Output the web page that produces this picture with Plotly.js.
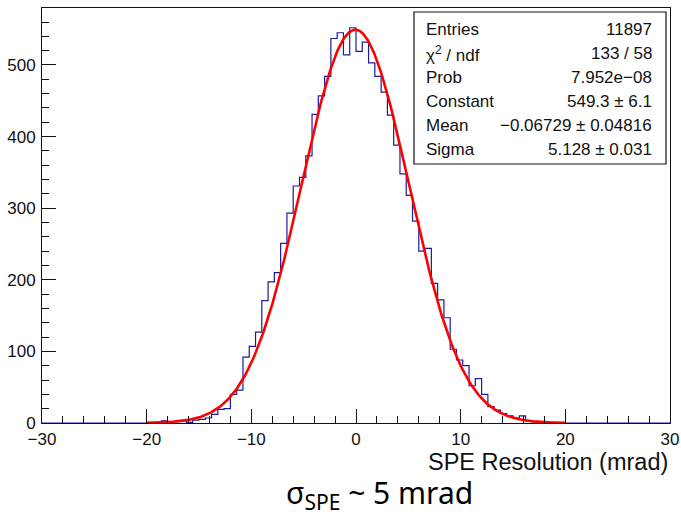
<!DOCTYPE html>
<html><head><meta charset="utf-8">
<script src="https://cdn.plot.ly/plotly-3.0.1.min.js"></script>
<style>html,body{margin:0;padding:0;background:#fff}#chart{width:681px;height:518px}</style>
</head><body><div id="chart"></div>
<script>
// ---- data ----
const xMin = -30, xMax = 30, binWidth = 0.6;
const firstFilledEdge = -19.8;
const counts = [0, 1, 3, 2, 2, 3, 1, 4, 5, 7, 12, 19, 20, 40, 46, 92, 107, 127, 171, 197, 210, 251,
  293, 331, 343, 373, 431, 457, 484, 537, 545, 514, 552,
  519, 532, 503, 484, 462, 430, 388, 348, 318, 282,
  240, 244, 195, 172, 147, 103, 88, 80, 52, 62, 40, 23, 18, 13, 10, 7, 10, 3, 2, 1, 1];
const statLabels = ['Entries', 'χ<sup>2</sup> / ndf', 'Prob', 'Constant', 'Mean', 'Sigma'];
const statValues = ['11897', '133 / 58', '7.952e−08', '549.3 ± 6.1', '−0.06729 ± 0.04816', '5.128 ± 0.031'];
const fitConstant = 549.3, fitMean = -0.06729, fitSigma = 5.128;
const fitRange = [-20, 20];
const xTitle = 'SPE Resolution (mrad)';
const caption = 'σ<sub>SPE</sub> ~ 5 mrad';

// ---- build histogram outline ----
const nBins = Math.round((xMax - xMin) / binWidth);
const offset = Math.round((firstFilledEdge - xMin) / binWidth);
const full = new Array(nBins).fill(0);
counts.forEach((c, i) => { full[offset + i] = c; });
const hx = [], hy = [];
for (let i = 0; i <= nBins; i++) {
  hx.push(xMin + i * binWidth);
  hy.push(i < nBins ? full[i] : full[nBins - 1]);
}

// ---- fit function (Gaussian with the fitted parameters) ----
const fx = [], fy = [];
for (let x = fitRange[0]; x <= fitRange[1] + 1e-9; x += 0.1) {
  fx.push(x);
  fy.push(fitConstant * Math.exp(-0.5 * Math.pow((x - fitMean) / fitSigma, 2)));
}

const font = 'Liberation Sans, Arial, Helvetica, sans-serif';
const ml = 42, mr = 11, mt = 8, mb = 95, W = 681, H = 518;
const pw = W - ml - mr, ph = H - mt - mb;
const px = p => (p - ml) / pw;
const py = p => (H - mb - p) / ph;

const annotations = [];
const rowTop = 30, rowStep = 23.8;
statLabels.forEach((t, i) => {
  annotations.push({xref: 'paper', yref: 'paper', x: px(424), y: py(rowTop + i * rowStep), xanchor: 'left', yanchor: 'middle',
    text: t, showarrow: false, font: {family: font, size: 17, color: '#111'}});
  annotations.push({xref: 'paper', yref: 'paper', x: px(654), y: py(rowTop + i * rowStep), xanchor: 'right', yanchor: 'middle',
    text: statValues[i], showarrow: false, font: {family: font, size: 17, color: '#111'}});
});
annotations.push({xref: 'paper', yref: 'paper', x: px(670), y: py(462), xanchor: 'right', yanchor: 'middle',
  text: xTitle, showarrow: false, font: {family: font, size: 23.5, color: '#111'}});
annotations.push({xref: 'paper', yref: 'paper', x: px(379), y: py(494), xanchor: 'center', yanchor: 'middle',
  text: caption, showarrow: false, font: {family: 'Noto Sans, sans-serif', size: 30, color: '#000'}});

const axisCommon = {
  showgrid: false, zeroline: false, showline: true, linecolor: '#111', linewidth: 1, mirror: true,
  ticks: 'inside', ticklen: 14, tickcolor: '#111', tickwidth: 1,
  tickfont: {family: font, size: 17, color: '#111'}, fixedrange: true
};

Plotly.newPlot('chart', [
  {x: hx, y: hy, type: 'scatter', mode: 'lines', line: {shape: 'hv', color: '#1a1aa0', width: 1.2}, hoverinfo: 'skip'},
  {x: fx, y: fy, type: 'scatter', mode: 'lines', line: {color: '#ff0000', width: 2.6}, hoverinfo: 'skip'}
], {
  width: W, height: H, margin: {l: ml, r: mr, t: mt, b: mb},
  paper_bgcolor: '#fff', plot_bgcolor: '#fff', showlegend: false,
  xaxis: Object.assign({}, axisCommon, {range: [xMin, xMax], dtick: 10, tick0: 0, ticklabelstandoff: 1,
    minor: {dtick: 2, ticklen: 7, ticks: 'inside', tickcolor: '#111'}}),
  yaxis: Object.assign({}, axisCommon, {range: [0, 579.6], dtick: 100, tick0: 0, ticklabelstandoff: 2,
    minor: {dtick: 20, ticklen: 7, ticks: 'inside', tickcolor: '#111'}}),
  shapes: [{type: 'rect', xref: 'paper', yref: 'paper', x0: px(414), x1: px(666), y0: py(164), y1: py(12),
    line: {color: '#111', width: 1.2}, fillcolor: '#fff', layer: 'above'}],
  annotations: annotations
}, {staticPlot: true});
</script></body></html>
